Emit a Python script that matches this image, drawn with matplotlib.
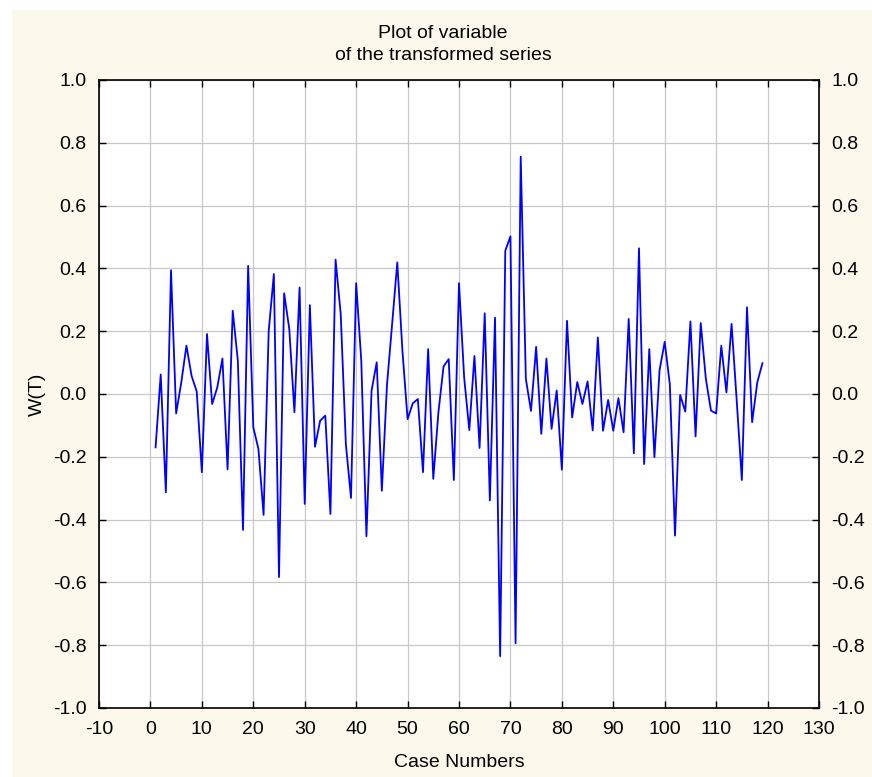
import matplotlib
matplotlib.use('Agg')
import matplotlib.pyplot as plt
from matplotlib.patches import Rectangle
import numpy as np

# case numbers 1..119 and W(T) values
cases = np.arange(1, 120)
w_t = [
    -0.170, 0.062, -0.313, 0.394, -0.062, 0.037, 0.154, 0.058, 0.008, -0.249,
    0.191, -0.032, 0.021, 0.113, -0.240, 0.265, 0.106, -0.433, 0.408, -0.106,
    -0.175, -0.385, 0.201, 0.382, -0.583, 0.321, 0.207, -0.058, 0.339, -0.350,
    0.283, -0.168, -0.085, -0.069, -0.382, 0.428, 0.255, -0.159, -0.331, 0.353,
    0.106, -0.453, 0.011, 0.101, -0.308, 0.030, 0.223, 0.419, 0.138, -0.080,
    -0.030, -0.016, -0.249, 0.143, -0.270, -0.058, 0.088, 0.111, -0.274, 0.353,
    0.053, -0.115, 0.121, -0.172, 0.257, -0.339, 0.243, -0.835, 0.456, 0.502,
    -0.794, 0.756, 0.048, -0.054, 0.150, -0.127, 0.113, -0.111, 0.011, -0.241,
    0.233, -0.075, 0.038, -0.032, 0.040, -0.116, 0.180, -0.117, -0.019, -0.117,
    -0.013, -0.122, 0.239, -0.189, 0.464, -0.223, 0.143, -0.201, 0.076, 0.166,
    0.030, -0.451, -0.003, -0.056, 0.231, -0.135, 0.226, 0.048, -0.053, -0.062,
    0.154, 0.005, 0.223, -0.021, -0.274, 0.276, -0.090, 0.037, 0.098,
]
x_ticks = np.arange(-10, 131, 10)
y_ticks = np.round(np.arange(-1.0, 1.01, 0.2), 1)

plt.rcParams['font.family'] = ['Liberation Sans', 'DejaVu Sans']
plt.rcParams['axes.unicode_minus'] = False

fig = plt.figure(figsize=(8.72, 7.77), dpi=100, facecolor='white')
# cream panel behind the chart (small white margin left/top)
fig.patches.append(Rectangle((12 / 872, 0), 1, 1 - 10 / 777, transform=fig.transFigure,
                             facecolor='#fdf8ec', edgecolor='none', zorder=-10))

ax = fig.add_axes([99 / 872, 69 / 777, 720 / 872, 628 / 777])
ax.set_facecolor('white')

ax.plot(cases, w_t, color='#0000ff', linewidth=1.3)

ax.set_xlim(-10, 130)
ax.set_ylim(-1.0, 1.0)
ax.set_xticks(x_ticks)
ax.set_xticklabels([str(v) for v in x_ticks])
ax.set_yticks(y_ticks)
ax.set_yticklabels([f'{v:.1f}' if abs(v) > 1e-9 else '0.0' for v in y_ticks])
ax.grid(True, color='#c8c8c8', linewidth=0.9)
ax.set_axisbelow(True)

ax.tick_params(direction='in', length=5, width=1, labelsize=14,
               top=True, right=True, labelright=True, pad=9)
for s in ax.spines.values():
    s.set_linewidth(1.2)
    s.set_color('black')

ax.set_xlabel('Case Numbers', fontsize=14, labelpad=12)
ax.set_ylabel('W(T)', fontsize=14, labelpad=5)
fig.text(443 / 872, 1 - 33 / 777, 'Plot of variable', ha='center', va='center', fontsize=14)
fig.text(443 / 872, 1 - 56 / 777, 'of the transformed series', ha='center', va='center', fontsize=14)

fig.savefig('out.png', dpi=100, facecolor=fig.get_facecolor())
